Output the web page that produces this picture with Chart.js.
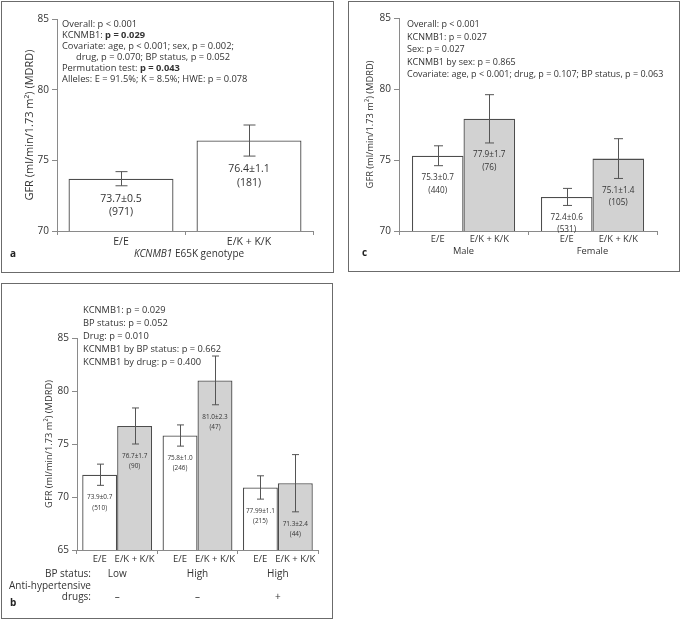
<!DOCTYPE html>
<html lang="en">
<head>
<meta charset="UTF-8">
<title>KCNMB1 E65K genotype and GFR</title>
<style>
    body {
        margin: 0;
        background: #fff;
        font-family: 'Open Sans', sans-serif;
        color: #333;
    }
    #page {
        position: relative;
        width: 681px;
        height: 624px;
        overflow: hidden;
    }
    .box {
        position: absolute;
        border: 1.5px solid #6b6b6b;
    }
    canvas {
        position: absolute;
    }
    .txt {
        position: absolute;
        white-space: nowrap;
        color: #333;
    }
    .letter {
        position: absolute;
        font-weight: bold;
        font-size: 10px;
        color: #222;
    }
</style>
</head>
<body>
<div id="page">
    <div class="box" style="left:1px; top:1px; width:331px; height:270px;"></div>
    <div class="box" style="left:348px; top:1px; width:330px; height:269px;"></div>
    <div class="box" style="left:1px; top:283px; width:330px; height:334px;"></div>

    <canvas id="chartA" width="340" height="280" style="left:0; top:0;"></canvas>
    <canvas id="chartC" width="341" height="280" style="left:340px; top:0;"></canvas>
    <canvas id="chartB" width="340" height="340" style="left:0; top:284px;"></canvas>

    <!-- panel a stats -->
    <div class="txt" style="left:62px; top:18px; font-size:9.3px; line-height:11px;">
        Overall: p &lt; 0.001<br>
        KCNMB1: <b>p = 0.029</b><br>
        Covariate: age, p &lt; 0.001; sex, p = 0.002;<br>
        <span style="padding-left:14px">drug, p = 0.070; BP status, p = 0.052</span><br>
        Permutation test: <b>p = 0.043</b><br>
        Alleles: E = 91.5%; K = 8.5%; HWE: p = 0.078
    </div>
    <div class="txt" style="left:0; width:378px; text-align:center; top:247px; font-size:10px; line-height:12px;">
        <i>KCNMB1</i> E65K genotype
    </div>
    <div class="letter" style="left:10px; top:246px;">a</div>

    <!-- panel c stats -->
    <div class="txt" style="left:407px; top:18px; font-size:9px; line-height:12.5px;">
        Overall: p &lt; 0.001<br>
        KCNMB1: p = 0.027<br>
        Sex: p = 0.027<br>
        KCNMB1 by sex: p = 0.865<br>
        Covariate: age, p &lt; 0.001; drug, p = 0.107; BP status, p = 0.063
    </div>
    <div class="letter" style="left:362px; top:245px;">c</div>

    <!-- panel b stats -->
    <div class="txt" style="left:83px; top:303px; font-size:9.3px; line-height:13px;">
        KCNMB1: p = 0.029<br>
        BP status: p = 0.052<br>
        Drug: p = 0.010<br>
        KCNMB1 by BP status: p = 0.662<br>
        KCNMB1 by drug: p = 0.400
    </div>
    <div class="txt" style="left:0; width:91px; text-align:right; top:568px; font-size:10px; line-height:11.5px;">
        BP status:<br>
        Anti-hypertensive<br>
        drugs:
    </div>
    <div class="letter" style="left:10px; top:595px;">b</div>
</div>

<script src="https://cdn.jsdelivr.net/npm/chart.js"></script>
<script>
    // ---- panel a: KCNMB1 E65K genotype ----
    const genotypes = ['E/E', 'E/K + K/K'];
    const aMeans = [73.7, 76.4];
    const aErr = [0.5, 1.1];
    const aN = [971, 181];
    const aTicks = [70, 75, 80, 85];

    // ---- panel c: by sex ----
    const sexes = ['Male', 'Female'];
    const cMeansEE = [75.3, 72.4];
    const cErrEE = [0.7, 0.6];
    const cNEE = [440, 531];
    const cMeansEK = [77.9, 75.1];
    const cErrEK = [1.7, 1.4];
    const cNEK = [76, 105];
    const cTicks = [70, 75, 80, 85];

    // ---- panel b: by BP status / drugs ----
    const bpStatus = ['Low', 'High', 'High'];
    const drugs = ['\u2013', '\u2013', '+'];
    const bMeansEE = [72.1, 75.8, 70.9];   // bar heights as drawn
    const bErrEE = [1.0, 1.0, 1.1];
    const bStatEE = ['73.9\u00b10.7', '75.8\u00b11.0', '77.99\u00b11.1']; // printed labels
    const bNEE = [510, 246, 215];
    const bMeansEK = [76.7, 81.0, 71.3];
    const bErrEK = [1.7, 2.3, 2.7];
    const bStatEK = ['76.7\u00b11.7', '81.0\u00b12.3', '71.3\u00b12.4'];
    const bNEK = [90, 47, 44];
    const bTicks = [65, 70, 75, 80, 85];

    const FONT = "'Open Sans', sans-serif";
    const TEXT = '#333';
    const AXIS = '#8a8a8a';
    const BAR_LINE = '#4d4d4d';
    const GREY = '#d2d2d2';
    const yTitle = 'GFR (ml/min/1.73 m\u00b2) (MDRD)';

    const fmt = (m, e) => m.toFixed(1) + '\u00b1' + e.toFixed(1);

    // error bars + mean/n labels under the lower whisker
    const errBars = {
        id: 'errbars',
        afterDatasetsDraw(chart, args, opts) {
            const ctx = chart.ctx;
            const y = chart.scales.y;
            chart.data.datasets.forEach((ds, di) => {
                const meta = chart.getDatasetMeta(di);
                meta.data.forEach((bar, i) => {
                    const v = ds.data[i], e = ds.err[i];
                    const top = y.getPixelForValue(v + e);
                    const bot = y.getPixelForValue(v - e);
                    const x = Math.round(bar.x) + 0.5;
                    ctx.save();
                    ctx.strokeStyle = '#555';
                    ctx.lineWidth = 1;
                    ctx.beginPath();
                    ctx.moveTo(x, top); ctx.lineTo(x, bot);
                    ctx.moveTo(x - opts.cap / 2, top); ctx.lineTo(x + opts.cap / 2, top);
                    ctx.moveTo(x - opts.cap / 2, bot); ctx.lineTo(x + opts.cap / 2, bot);
                    ctx.stroke();
                    ctx.fillStyle = TEXT;
                    ctx.font = opts.size + 'px ' + FONT;
                    ctx.textAlign = 'center';
                    ctx.textBaseline = 'middle';
                    const ly = Math.min(bot + opts.gap, bar.base - opts.lineH - 6);
                    ctx.fillText(ds.stat[i], bar.x, ly);
                    ctx.fillText('(' + ds.n[i] + ')', bar.x, ly + opts.lineH);
                    ctx.restore();
                });
            });
        }
    };

    // genotype names under each bar (grouped panels)
    const subLabels = {
        id: 'sublabels',
        afterDraw(chart, args, opts) {
            if (!opts.labels) return;
            const ctx = chart.ctx;
            ctx.save();
            ctx.fillStyle = TEXT;
            ctx.font = opts.size + 'px ' + FONT;
            ctx.textAlign = 'center';
            ctx.textBaseline = 'middle';
            chart.data.datasets.forEach((ds, di) => {
                chart.getDatasetMeta(di).data.forEach(bar => {
                    ctx.fillText(opts.labels[di], bar.x, chart.chartArea.bottom + opts.dy);
                });
            });
            ctx.restore();
        }
    };

    function yAxis(min, max, ticks, width, titleSize, titlePad) {
        return {
            min: min, max: max,
            afterBuildTicks: s => { s.ticks = ticks.map(v => ({ value: v })); },
            afterFit: s => { s.width = width; },
            ticks: { color: TEXT, font: { family: FONT, size: 10 }, padding: 3 },
            grid: { drawOnChartArea: false, tickLength: 5, color: AXIS },
            border: { color: AXIS, width: 1 },
            title: {
                display: true, text: yTitle, color: TEXT,
                font: { family: FONT, size: titleSize },
                padding: { top: titlePad, bottom: 0 }
            }
        };
    }

    function xAxis(height, size, pad) {
        return {
            afterFit: s => { s.height = height; },
            ticks: { color: TEXT, font: { family: FONT, size: size, lineHeight: 1.15 }, padding: pad, maxRotation: 0, autoSkip: false },
            grid: { drawOnChartArea: false, tickLength: 4, color: AXIS, offset: true },
            border: { color: AXIS, width: 1 }
        };
    }

    const common = {
        responsive: false,
        animation: false,
        events: []
    };

    // panel a
    new Chart(document.getElementById('chartA'), {
        type: 'bar',
        data: {
            labels: genotypes,
            datasets: [{
                data: aMeans,
                err: aErr,
                stat: aMeans.map((m, i) => fmt(m, aErr[i])),
                n: aN,
                backgroundColor: '#fff',
                borderColor: BAR_LINE,
                borderWidth: 1.3,
                borderSkipped: false,
                categoryPercentage: 0.82,
                barPercentage: 1
            }]
        },
        options: Object.assign({}, common, {
            layout: { padding: { left: 0, top: 19, right: 27, bottom: 19 } },
            plugins: {
                legend: { display: false },
                tooltip: { enabled: false },
                errbars: { cap: 12, size: 10.5, gap: 13, lineH: 13.5 }
            },
            scales: {
                x: xAxis(30, 10.5, 1),
                y: yAxis(70, 85, aTicks, 57, 11, 23.4)
            }
        }),
        plugins: [errBars]
    });

    // panel c
    new Chart(document.getElementById('chartC'), {
        type: 'bar',
        data: {
            labels: sexes,
            datasets: [{
                data: cMeansEE, err: cErrEE, n: cNEE,
                stat: cMeansEE.map((m, i) => fmt(m, cErrEE[i])),
                backgroundColor: '#fff'
            }, {
                data: cMeansEK, err: cErrEK, n: cNEK,
                stat: cMeansEK.map((m, i) => fmt(m, cErrEK[i])),
                backgroundColor: GREY
            }].map(d => Object.assign(d, {
                borderColor: BAR_LINE, borderWidth: 1.3, borderSkipped: false,
                categoryPercentage: 0.8, barPercentage: 1
            }))
        },
        options: Object.assign({}, common, {
            layout: { padding: { left: 0, top: 18, right: 24, bottom: 19 } },
            plugins: {
                legend: { display: false },
                tooltip: { enabled: false },
                errbars: { cap: 9, size: 8.2, gap: 12, lineH: 12.5 },
                sublabels: { labels: genotypes, size: 9.3, dy: 8 }
            },
            scales: {
                x: xAxis(30, 9.3, 11.5),
                y: yAxis(70, 85, cTicks, 59, 9.3, 25)
            }
        }),
        plugins: [errBars, subLabels]
    });

    // panel b
    new Chart(document.getElementById('chartB'), {
        type: 'bar',
        data: {
            labels: bpStatus.map((s, i) => [s, '', drugs[i]]),
            datasets: [{
                data: bMeansEE, err: bErrEE, n: bNEE, stat: bStatEE,
                backgroundColor: '#fff'
            }, {
                data: bMeansEK, err: bErrEK, n: bNEK, stat: bStatEK,
                backgroundColor: GREY
            }].map(d => Object.assign(d, {
                borderColor: BAR_LINE, borderWidth: 1.3, borderSkipped: false,
                categoryPercentage: 0.87, barPercentage: 1
            }))
        },
        options: Object.assign({}, common, {
            layout: { padding: { left: 0, top: 54, right: 22, bottom: 14 } },
            plugins: {
                legend: { display: false },
                tooltip: { enabled: false },
                errbars: { cap: 7, size: 6.4, gap: 12, lineH: 10.5 },
                sublabels: { labels: genotypes, size: 9.5, dy: 9 }
            },
            scales: {
                x: xAxis(60, 10, 14),
                y: yAxis(65, 85, bTicks, 77, 9.3, 43.4)
            }
        }),
        plugins: [errBars, subLabels]
    });
</script>
</body>
</html>
